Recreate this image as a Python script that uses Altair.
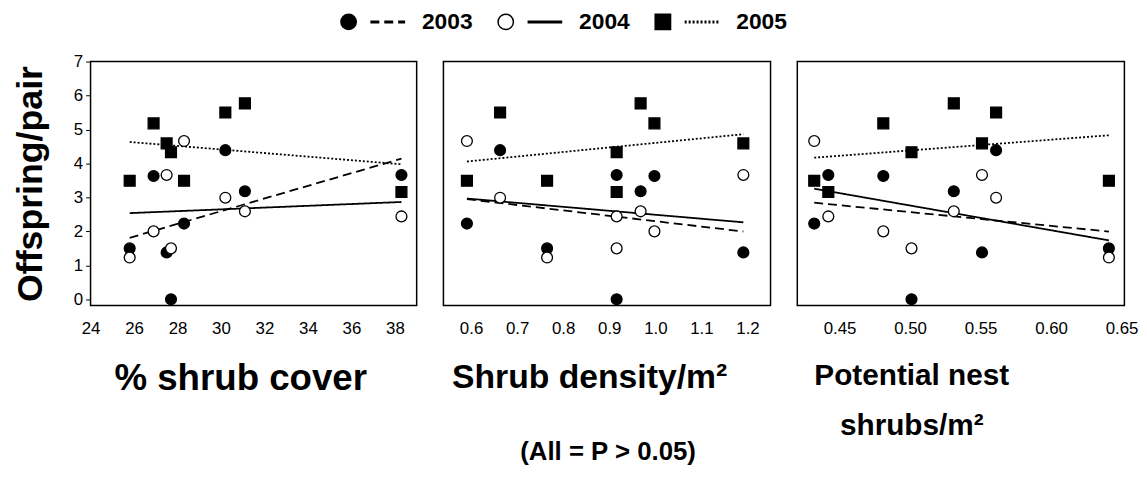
import altair as alt
import pandas as pd

# ---- data ----
years = ["2003", "2004", "2005"]
shrub_cover = [25.8, 26.9, 27.5, 27.7, 28.3, 30.2, 31.1, 38.3]
shrub_density = [0.765, 0.998, 1.191, 0.916, 0.591, 0.663, 0.968, 0.916]
nest_shrubs = [0.641, 0.481, 0.551, 0.501, 0.432, 0.561, 0.531, 0.442]
offspring_2003 = [1.50, 3.63, 1.38, 0.00, 2.23, 4.39, 3.18, 3.66]
offspring_2004 = [1.23, 2.00, 3.66, 1.50, 4.66, 2.99, 2.59, 2.44]
offspring_2005 = [3.49, 5.18, 4.59, 4.33, 3.49, 5.50, 5.77, 3.16]

cover_ticks = [24, 26, 28, 30, 32, 34, 36, 38]
density_ticks = [0.6, 0.7, 0.8, 0.9, 1.0, 1.1, 1.2]
nest_ticks = [0.45, 0.50, 0.55, 0.60, 0.65]
y_ticks = [0, 1, 2, 3, 4, 5, 6, 7]

series = {"2003": offspring_2003, "2004": offspring_2004, "2005": offspring_2005}
rows = []
for yr in years:
    for i in range(len(shrub_cover)):
        rows.append({"year": yr, "cover": shrub_cover[i], "density": shrub_density[i],
                     "nest": nest_shrubs[i], "offspring": series[yr][i]})
df = pd.DataFrame(rows)

FONT = "Liberation Sans"

shape_scale = alt.Scale(domain=years, range=["circle", "circle", "square"])
fill_scale = alt.Scale(domain=years, range=["black", "white", "black"])
dash_scale = alt.Scale(domain=years, range=[[9, 5], [1, 0], [2, 2]])


def panel(field, domain, ticks, fmt, title, title_x, tsize, show_y, width):
    x_enc = alt.X(f"{field}:Q",
                  scale=alt.Scale(domain=domain, nice=False, zero=False),
                  axis=alt.Axis(values=ticks, format=fmt, title=title, grid=False,
                                domain=False, ticks=False, labelPadding=15,
                                labelFont=FONT, labelFontSize=17, labelColor="black",
                                labelFlush=False, labelOverlap=False,
                                titleFont=FONT, titleFontSize=tsize, titleFontWeight="bold",
                                titleColor="black", titlePadding=25, titleX=title_x,
                                titleLineHeight=50))
    if show_y:
        y_axis = alt.Axis(values=y_ticks, title="Offspring/pair", grid=False, domain=False,
                          tickSize=5, tickColor="black", labelPadding=3,
                          labelFont=FONT, labelFontSize=17, labelColor="black",
                          labelFlush=False, labelOverlap=False,
                          titleFont=FONT, titleFontSize=36, titleFontWeight="bold",
                          titleColor="black", titlePadding=24)
    else:
        y_axis = None
    y_enc = alt.Y("offspring:Q", scale=alt.Scale(domain=[-0.18, 7], nice=False, zero=False),
                  axis=y_axis)
    base = alt.Chart(df)
    lines = base.transform_regression(field, "offspring", groupby=["year"]).mark_line(
        color="black", strokeWidth=1.8
    ).encode(x=x_enc, y=y_enc,
             strokeDash=alt.StrokeDash("year:N", scale=dash_scale, legend=None))
    pts = base.mark_point(filled=True, stroke="black", strokeWidth=1.3, opacity=1, size=120).encode(
        x=x_enc, y=y_enc,
        shape=alt.Shape("year:N", scale=shape_scale, legend=None),
        fill=alt.Fill("year:N", scale=fill_scale, legend=None),
    )
    return alt.layer(lines, pts).properties(width=width, height=246)


p1 = panel("cover", [24, 39], cover_ticks, "d", "% shrub cover", 151, 37, True, 329)
p2 = panel("density", [0.54, 1.25], density_ticks, ".1f", "Shrub density/m²", 147, 34, False, 330)
p3 = panel("nest", [0.42, 0.652], nest_ticks, ".2f", ["Potential nest", "shrubs/m²"], 115, 30,
           False, 330)

# ---- legend row ----
legend_df = pd.DataFrame({"year": years})
lx = alt.X("year:N", scale=alt.Scale(type="point", padding=0.741, align=0.034), axis=None)
leg_base = alt.Chart(legend_df)
leg_pts = leg_base.mark_point(filled=True, stroke="black", strokeWidth=1.5, opacity=1).encode(
    x=lx, y=alt.value(10),
    shape=alt.Shape("year:N", scale=shape_scale, legend=None),
    fill=alt.Fill("year:N", scale=fill_scale, legend=None),
    size=alt.Size("year:N", scale=alt.Scale(domain=years, range=[240, 240, 330]), legend=None),
)
leg_lines = leg_base.mark_rule(xOffset=22, x2Offset=57, strokeWidth=3, color="black").encode(
    x=lx, x2=alt.X2("year:N"), y=alt.value(10),
    strokeDash=alt.StrokeDash("year:N", scale=dash_scale, legend=None),
)
leg_text = leg_base.mark_text(align="left", baseline="middle", dx=74, fontSize=23,
                              fontWeight="bold", font=FONT, color="black").encode(
    x=lx, y=alt.value(10), text="year:N")
legend = alt.layer(leg_lines, leg_pts, leg_text).properties(
    width=552, height=20, view=alt.ViewBackground(stroke="transparent"))

chart = alt.vconcat(
    legend,
    alt.hconcat(p1, p2, p3, spacing=25),
    spacing=17, center=True,
).properties(
    padding={"left": 4, "top": 0, "right": 0, "bottom": 0},
    title=alt.TitleParams("(All = P > 0.05)", orient="bottom", anchor="middle",
                          fontSize=26, fontWeight="bold", font=FONT, color="black",
                          offset=-2, dx=33)
).configure(font=FONT).configure_view(stroke="black", strokeWidth=1.5)

chart.save("out.html", embed_options={"renderer": "svg", "actions": False})
